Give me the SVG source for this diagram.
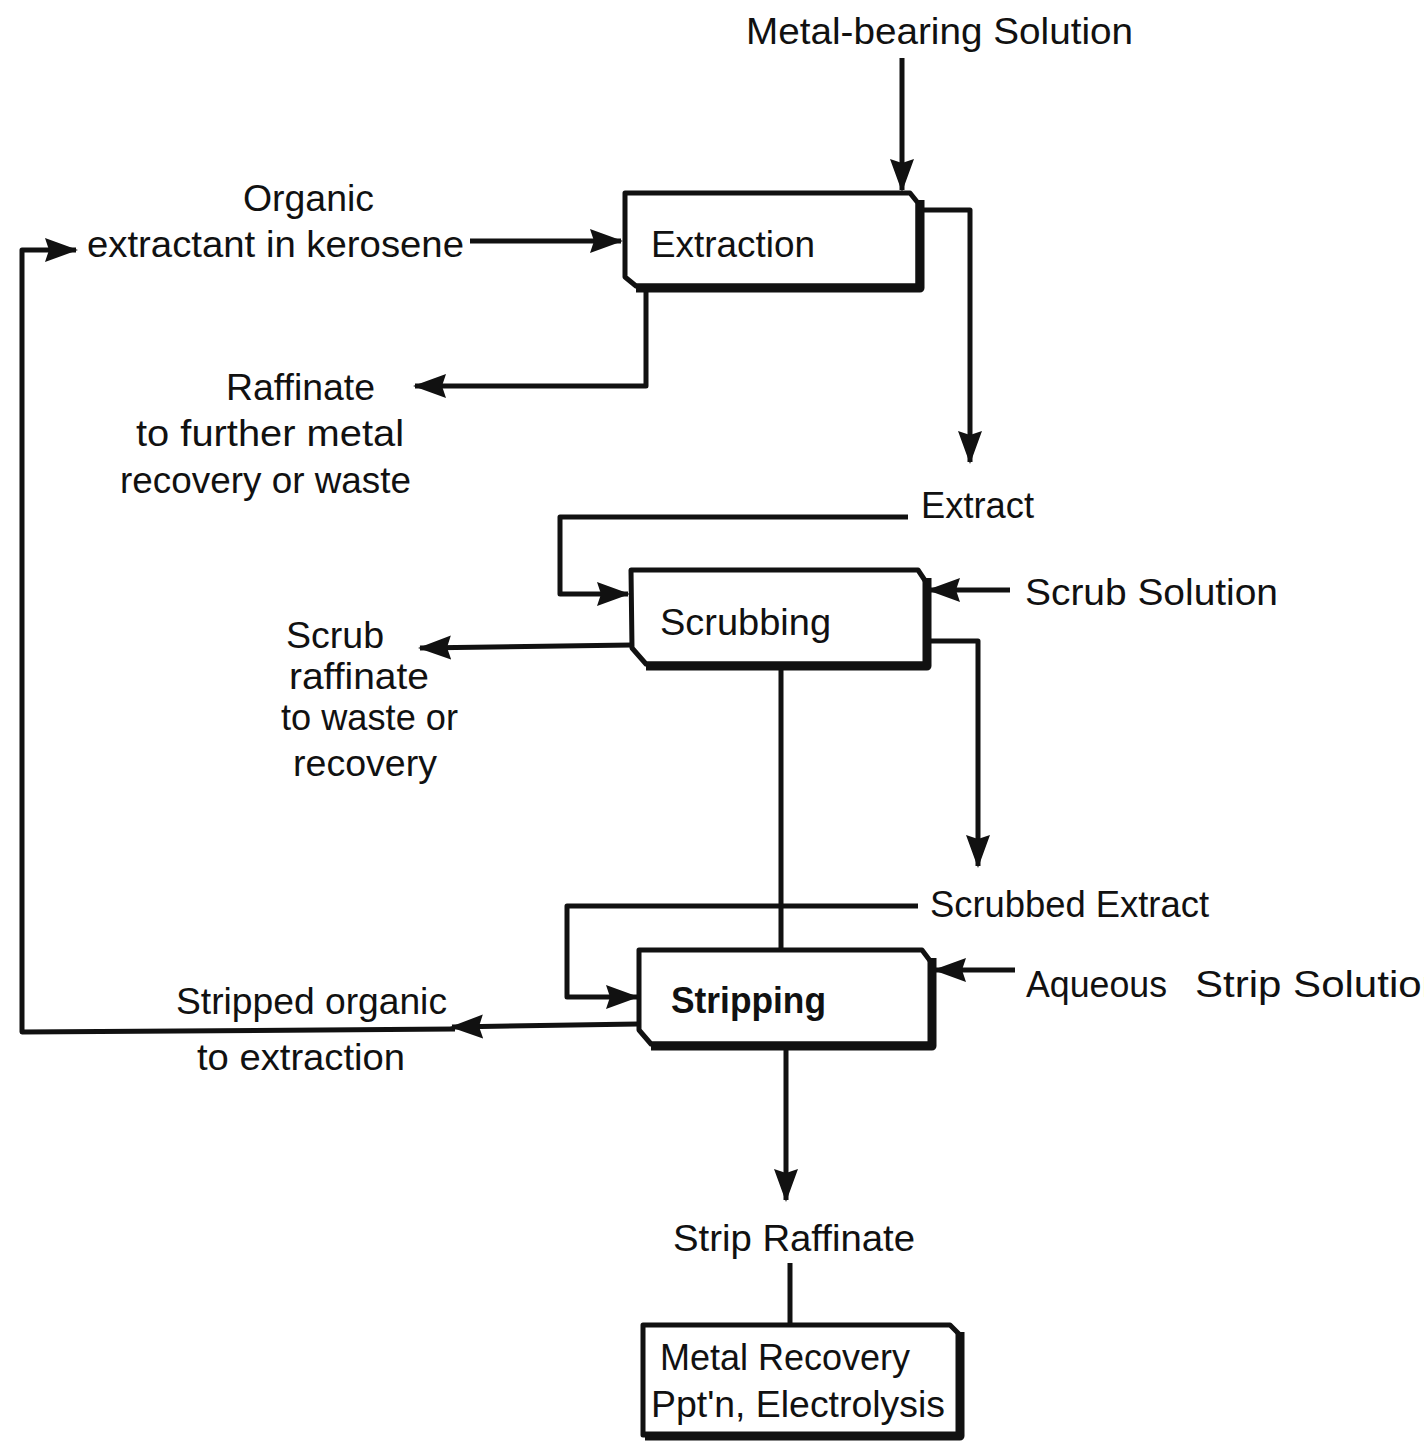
<svg xmlns="http://www.w3.org/2000/svg" width="1424" height="1441" viewBox="0 0 1424 1441">
<style>
.t{font-family:"Liberation Sans","DejaVu Sans",sans-serif;font-size:37px;fill:#111}
.b{font-weight:bold}
.box{fill:#fff;stroke:#111;stroke-width:5;stroke-linejoin:round}
.sh{fill:none;stroke:#111;stroke-width:9;stroke-linejoin:round}
.c{fill:none;stroke:#111;stroke-width:5;stroke-linejoin:round}
</style>
<defs>
<marker id="ar" markerUnits="userSpaceOnUse" markerWidth="34" markerHeight="26" refX="31" refY="13" orient="auto" viewBox="0 0 34 26">
<path d="M0,1 L33,13 L0,25 L4,13 z" fill="#111"/>
</marker>
</defs>
<rect width="1424" height="1441" fill="#fff"/>

<g id="connectors">
<path class="c" d="M902,58 V190" marker-end="url(#ar)"/>
<path class="c" d="M470,241 H621" marker-end="url(#ar)"/>
<path class="c" d="M920,210 H970 V462" marker-end="url(#ar)"/>
<path class="c" d="M646,290 V386 H415" marker-end="url(#ar)"/>
<path class="c" d="M908,517 H560 V594 H628" marker-end="url(#ar)"/>
<path class="c" d="M1010,590 H929" marker-end="url(#ar)"/>
<path class="c" d="M632,645 L420,648" marker-end="url(#ar)"/>
<path class="c" d="M928,641 H978 V866" marker-end="url(#ar)"/>
<path class="c" d="M781,667 V950"/>
<path class="c" d="M918,906 H567 V997 H637" marker-end="url(#ar)"/>
<path class="c" d="M1015,970 H935" marker-end="url(#ar)"/>
<path class="c" d="M638,1024 L452,1027" marker-end="url(#ar)"/>
<path class="c" d="M455,1029 L22,1032 V250 H76" marker-end="url(#ar)"/>
<path class="c" d="M786,1048 V1200" marker-end="url(#ar)"/>
<path class="c" d="M790,1263 V1324"/>
</g>

<g id="extraction">
<path class="box" d="M625,193 H910 L918,203 V286 H636 L625,277 Z"/>
<path class="sh" d="M920,200 V288 H636"/>
<text class="t" x="651" y="257" textLength="164" lengthAdjust="spacingAndGlyphs">Extraction</text>
</g>

<g id="scrubbing">
<path class="box" d="M631,570 H918 L926,582 V664 H646 L632,648 Z"/>
<path class="sh" d="M927,578 V666 H646"/>
<text class="t" x="660" y="635" textLength="171" lengthAdjust="spacingAndGlyphs">Scrubbing</text>
</g>

<g id="stripping">
<path class="box" d="M639,950 H922 L931,962 V1044 H651 L639,1030 Z"/>
<path class="sh" d="M932,958 V1046 H651"/>
<text class="t b" x="671" y="1013" textLength="155" lengthAdjust="spacingAndGlyphs">Stripping</text>
</g>

<g id="metal-recovery">
<path class="box" d="M643,1325 H950 L959,1334 V1435 H643 Z"/>
<path class="sh" d="M960,1332 V1436 H645"/>
<text class="t" x="660" y="1370" textLength="250" lengthAdjust="spacingAndGlyphs">Metal Recovery</text>
<text class="t" x="651" y="1417" textLength="294" lengthAdjust="spacingAndGlyphs">Ppt'n, Electrolysis</text>
</g>

<g id="labels">
<text class="t" x="746" y="44" textLength="387" lengthAdjust="spacingAndGlyphs">Metal-bearing Solution</text>
<text class="t" x="243" y="211" textLength="131" lengthAdjust="spacingAndGlyphs">Organic</text>
<text class="t" x="87" y="257" textLength="377" lengthAdjust="spacingAndGlyphs">extractant in kerosene</text>
<text class="t" x="226" y="400" textLength="149" lengthAdjust="spacingAndGlyphs">Raffinate</text>
<text class="t" x="136" y="446" textLength="268" lengthAdjust="spacingAndGlyphs">to further metal</text>
<text class="t" x="120" y="493" textLength="291" lengthAdjust="spacingAndGlyphs">recovery or waste</text>
<text class="t" x="921" y="518" textLength="113" lengthAdjust="spacingAndGlyphs">Extract</text>
<text class="t" x="1025" y="605" textLength="253" lengthAdjust="spacingAndGlyphs">Scrub Solution</text>
<text class="t" x="286" y="648" textLength="98" lengthAdjust="spacingAndGlyphs">Scrub</text>
<text class="t" x="289" y="689" textLength="140" lengthAdjust="spacingAndGlyphs">raffinate</text>
<text class="t" x="281" y="730" textLength="177" lengthAdjust="spacingAndGlyphs">to waste or</text>
<text class="t" x="293" y="776" textLength="144" lengthAdjust="spacingAndGlyphs">recovery</text>
<text class="t" x="930" y="917" textLength="279" lengthAdjust="spacingAndGlyphs">Scrubbed Extract</text>
<text class="t" x="1026" y="997" textLength="141" lengthAdjust="spacingAndGlyphs">Aqueous</text>
<text class="t" x="1195" y="997" textLength="250" lengthAdjust="spacingAndGlyphs">Strip Solution</text>
<text class="t" x="176" y="1014" textLength="271" lengthAdjust="spacingAndGlyphs">Stripped organic</text>
<text class="t" x="197" y="1070" textLength="208" lengthAdjust="spacingAndGlyphs">to extraction</text>
<text class="t" x="673" y="1251" textLength="242" lengthAdjust="spacingAndGlyphs">Strip Raffinate</text>
</g>
</svg>
